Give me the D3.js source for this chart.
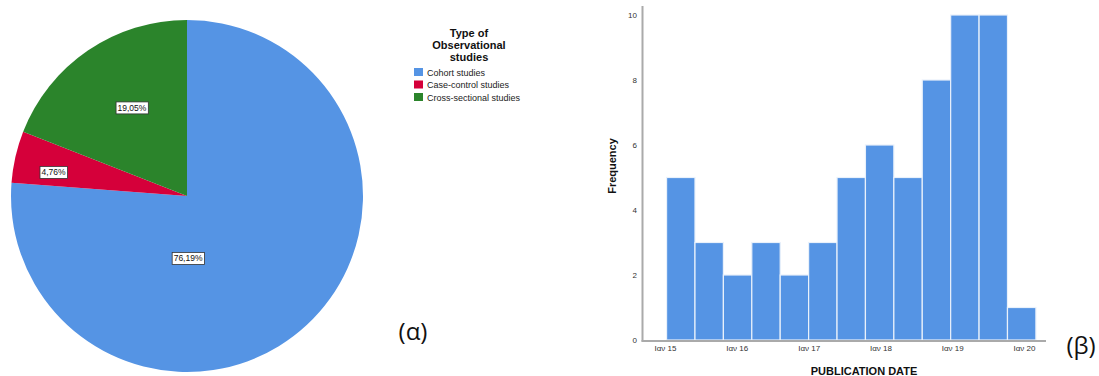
<!DOCTYPE html>
<html><head><meta charset="utf-8">
<script src="https://cdn.jsdelivr.net/npm/d3@7"></script>
<style>body{margin:0;background:#fff}svg{display:block}</style>
</head><body>
<svg id="c" width="1099" height="376"></svg>
<script>
// ---- Pie data ----
const pieCategories = ["Cohort studies", "Case-control studies", "Cross-sectional studies"];
const pieValues = [76.19, 4.76, 19.05];
const pieLabels = ["76,19%", "4,76%", "19,05%"];
const pieColors = ["#5594e4", "#d5003a", "#2b842b"];
const legendTitle = ["Type of", "Observational", "studies"];

// ---- Histogram data ----
const histCounts = [5, 3, 2, 3, 2, 3, 5, 6, 5, 8, 10, 10, 1];
const histBinStart = "2015-01-09";
const histBinDays = 144.5;
const xTickDates = ["2015-01-01","2016-01-01","2017-01-01","2018-01-01","2019-01-01","2020-01-01"];
const xTickLabels = ["Ιαν 15","Ιαν 16","Ιαν 17","Ιαν 18","Ιαν 19","Ιαν 20"];
const yTicks = [0, 2, 4, 6, 8, 10];

const svg = d3.select("#c");
const F = "Liberation Sans, Arial, sans-serif";

// ---------- PIE ----------
const cx = 187, cy = 196, R = 176;
const pieG = svg.append("g").attr("transform", `translate(${cx},${cy})`);
const pie = d3.pie().sort(null).value(d => d)
  .startAngle(0).endAngle(2 * Math.PI);
const arcs = pie(pieValues);
const arc = d3.arc().innerRadius(0).outerRadius(R);
pieG.selectAll("path").data(arcs).join("path")
  .attr("d", arc).attr("fill", (d, i) => pieColors[i]);

// label placement (angle in degrees clockwise from top, radius fraction)
const labelPlace = [{a: 179, r: 0.355}, {a: 280, r: 0.77}, {a: 328, r: 0.59}];
arcs.forEach((d, i) => {
  const a = labelPlace[i].a * Math.PI / 180, rr = labelPlace[i].r * R;
  const x = rr * Math.sin(a), y = -rr * Math.cos(a);
  const g = pieG.append("g").attr("transform", `translate(${x},${y})`);
  const t = g.append("text").attr("text-anchor", "middle").attr("dy", "0.35em")
    .attr("font-family", F).attr("font-size", 8.5).attr("fill", "#111").text(pieLabels[i]);
  const bb = t.node().getBBox();
  g.insert("rect", "text").attr("x", bb.x - 1.5).attr("y", bb.y - 1)
    .attr("width", bb.width + 3).attr("height", bb.height + 2)
    .attr("fill", "#fff").attr("stroke", "#333").attr("stroke-width", 0.8);
});

// legend
const lg = svg.append("g");
legendTitle.forEach((s, i) => {
  lg.append("text").attr("x", 469).attr("y", 37 + i * 12).attr("text-anchor", "middle")
    .attr("font-family", F).attr("font-weight", "bold").attr("font-size", 11).attr("fill", "#111").text(s);
});
pieCategories.forEach((s, i) => {
  lg.append("rect").attr("x", 414).attr("y", 68 + i * 12.5).attr("width", 9).attr("height", 8)
    .attr("fill", pieColors[i]);
  lg.append("text").attr("x", 427).attr("y", 75.5 + i * 12.5)
    .attr("font-family", F).attr("font-size", 9).attr("fill", "#222").text(s);
});

svg.append("text").attr("x", 413).attr("y", 340).attr("text-anchor", "middle")
  .attr("font-family", "Open Sans, sans-serif").attr("font-size", 24).attr("fill", "#111").text("(α)");

// ---------- HISTOGRAM ----------
const parse = d3.utcParse("%Y-%m-%d");
const x = d3.scaleUtc().domain([parse(xTickDates[0]), parse(xTickDates[5])]).range([665, 1024]);
const y = d3.scaleLinear().domain([0, 10]).range([340, 15]);
const start = parse(histBinStart);
const bins = histCounts.map((c, i) => ({
  x0: d3.utcDay.offset(start, 0) .getTime() + i * histBinDays * 864e5,
  x1: start.getTime() + (i + 1) * histBinDays * 864e5,
  c
}));
const hg = svg.append("g");
hg.selectAll("rect").data(bins).join("rect")
  .attr("x", d => x(new Date(d.x0)))
  .attr("width", d => x(new Date(d.x1)) - x(new Date(d.x0)))
  .attr("y", d => y(d.c)).attr("height", d => y(0) - y(d.c))
  .attr("fill", "#5594e4").attr("stroke", "#e9f1fb").attr("stroke-width", 1.2);

// axes
const axisColor = "#aaaaaa";
hg.append("line").attr("x1", 642.5).attr("x2", 642.5).attr("y1", 6).attr("y2", 341.5)
  .attr("stroke", axisColor).attr("stroke-width", 2);
hg.append("line").attr("x1", 641.5).attr("x2", 1046).attr("y1", 341).attr("y2", 341)
  .attr("stroke", axisColor).attr("stroke-width", 2);

const yAxis = d3.axisLeft(y).tickValues(yTicks).tickSize(0).tickPadding(0).tickFormat(d3.format("d"));
const ya = hg.append("g").attr("transform", "translate(637,0)").call(yAxis);
ya.select(".domain").remove();
ya.selectAll("text").attr("font-family", F).attr("font-size", 8).attr("fill", "#333");

const xAxis = d3.axisBottom(x).tickValues(xTickDates.map(parse)).tickSize(0).tickPadding(0)
  .tickFormat((d, i) => xTickLabels[i]);
const xa = hg.append("g").attr("transform", "translate(0,345)").call(xAxis);
xa.select(".domain").remove();
xa.selectAll("text").attr("font-family", F).attr("font-size", 8).attr("fill", "#333");

svg.append("text").attr("transform", "translate(616,166) rotate(-90)").attr("text-anchor", "middle")
  .attr("font-family", F).attr("font-weight", "bold").attr("font-size", 11).attr("fill", "#111").text("Frequency");
svg.append("text").attr("x", 864).attr("y", 375).attr("text-anchor", "middle")
  .attr("font-family", F).attr("font-weight", "bold").attr("font-size", 11).attr("fill", "#111").text("PUBLICATION DATE");

svg.append("text").attr("x", 1081).attr("y", 354).attr("text-anchor", "middle")
  .attr("font-family", "Open Sans, sans-serif").attr("font-size", 24).attr("fill", "#111").text("(β)");
</script>
</body></html>
